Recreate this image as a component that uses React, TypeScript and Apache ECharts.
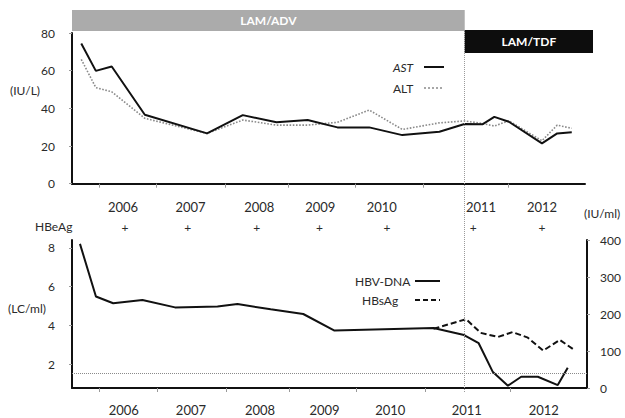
import React, { useEffect, useRef } from 'react';
import * as echarts from 'echarts';

// time axis in decimal years
const xMin = 2005.75;
const xMax = 2013.5;
const switchDate = 2011.66; // LAM/ADV -> LAM/TDF

// liver enzymes (IU/L)
const enzymeDates = [2005.89, 2006.11, 2006.35, 2006.85, 2007.79, 2008.33, 2008.84, 2009.31, 2009.76, 2010.24, 2010.74, 2011.30, 2011.68, 2011.95, 2012.13, 2012.35, 2012.85, 2013.08, 2013.30];
const astValues = [74.4, 59.9, 62.2, 36.6, 26.7, 36.4, 32.6, 33.8, 29.9, 29.9, 25.8, 27.6, 31.7, 31.5, 35.5, 32.9, 21.4, 26.7, 27.3];
const altValues = [66, 51, 48.8, 34.7, 26.7, 33.8, 31.1, 31.1, 32.6, 39.1, 28.8, 32.3, 33.3, 32, 30.6, 33.4, 22.8, 31.1, 29.4];

// HBV-DNA (LC/ml)
const dnaDates = [2005.87, 2006.11, 2006.37, 2006.81, 2007.30, 2007.94, 2008.24, 2008.74, 2009.23, 2009.70, 2011.19, 2011.65, 2011.87, 2012.08, 2012.31, 2012.51, 2012.76, 2013.06, 2013.21];
const dnaValues = [8.2, 5.5, 5.15, 5.32, 4.94, 4.98, 5.11, 4.84, 4.6, 3.75, 3.88, 3.52, 3.1, 1.64, 0.92, 1.38, 1.38, 0.95, 1.84];
const detectionLimit = 1.55;

// HBsAg (IU/ml)
const hbsDates = [2011.19, 2011.68, 2011.90, 2012.16, 2012.38, 2012.61, 2012.84, 2013.09, 2013.30];
const hbsValues = [160, 186, 149, 138, 151, 136, 101, 130, 104];

// axis ticks and labels
const xTicks = [2006.16, 2007.03, 2008.07, 2009.02, 2010.03, 2011.06, 2012.34];
const topYearPos = [2006.52, 2007.54, 2008.58, 2009.5, 2010.43, 2011.93, 2012.85];
const bottomYearPos = [2006.53, 2007.54, 2008.58, 2009.55, 2010.54, 2011.69, 2012.85];
const hbeagPos = [2006.55, 2007.5, 2008.54, 2009.49, 2010.51, 2011.81, 2012.85];
const hbeagStatus = ['+', '+', '+', '+', '+', '+', '+'];
const dnaTicks = [2, 4, 6, 8];

const zip = (xs: number[], ys: number[]) => xs.map((x, i) => [x, ys[i]]);

export default function App() {
  const ref = useRef<HTMLDivElement>(null);
  useEffect(() => {
    const chart = echarts.init(ref.current!, null, { renderer: 'svg' });
    const font = 'Lato, "Liberation Sans", sans-serif';
    const txt = '#2a2a2a';
    const label = { color: txt, fontSize: 12, fontFamily: font };
    const tick = { show: true, length: 3, lineStyle: { color: '#999', width: 1 } };
    const axisLine = { show: true, lineStyle: { color: '#111', width: 2 } };
    const yearFmt = (v: number) => String(Math.floor(v));

    chart.setOption({
      animation: false,
      backgroundColor: '#fff',
      grid: [
        { left: 72, right: 40, top: 33, height: 150.7 },
        { left: 72, right: 38, top: 240, bottom: 30 },
        { left: 72, right: 38, top: 30, bottom: 26 },
      ],
      xAxis: [
        {
          type: 'value', gridIndex: 0, min: xMin, max: xMax,
          axisLine, splitLine: { show: false },
          axisTick: { ...tick, length: 4, customValues: xTicks },
          axisLabel: { ...label, fontSize: 13, margin: 17, customValues: topYearPos, formatter: yearFmt },
        },
        {
          type: 'value', gridIndex: 1, min: xMin, max: xMax,
          axisLine, splitLine: { show: false },
          axisTick: { ...tick, length: 4, customValues: xTicks },
          axisLabel: { ...label, fontSize: 13, margin: 15, customValues: bottomYearPos, formatter: yearFmt },
        },
        { type: 'value', gridIndex: 2, min: xMin, max: xMax, show: false },
        {
          type: 'value', gridIndex: 0, min: xMin, max: xMax, position: 'bottom',
          axisLine: { show: false }, axisTick: { show: false }, splitLine: { show: false },
          axisLabel: { ...label, fontSize: 12, margin: 38, customValues: hbeagPos, formatter: (_v: number, i: number) => hbeagStatus[i] ?? '+' },
        },
      ],
      yAxis: [
        {
          type: 'value', gridIndex: 0, min: 0, max: 80, interval: 20,
          axisLine, axisTick: tick, splitLine: { show: false },
          axisLabel: { ...label, margin: 17 },
        },
        {
          type: 'value', gridIndex: 1, min: 0.8, max: 8.4,
          axisLine, splitLine: { show: false },
          axisTick: { ...tick, customValues: dnaTicks },
          axisLabel: { ...label, margin: 17, customValues: dnaTicks },
        },
        {
          type: 'value', gridIndex: 1, min: 0, max: 400, interval: 100, position: 'right',
          axisLine, axisTick: tick, splitLine: { show: false },
          axisLabel: { ...label, margin: 13 },
        },
        { type: 'value', gridIndex: 2, min: 0, max: 1, show: false },
      ],
      series: [
        {
          name: 'AST', type: 'line', xAxisIndex: 0, yAxisIndex: 0, symbol: 'none',
          data: zip(enzymeDates, astValues), lineStyle: { color: '#111', width: 2 }, z: 3,
        },
        {
          name: 'ALT', type: 'line', xAxisIndex: 0, yAxisIndex: 0, symbol: 'none',
          data: zip(enzymeDates, altValues), lineStyle: { color: '#8a8a8a', width: 1.6, type: 'dotted' }, z: 2,
        },
        {
          name: 'HBV-DNA', type: 'line', xAxisIndex: 1, yAxisIndex: 1, symbol: 'none',
          data: zip(dnaDates, dnaValues), lineStyle: { color: '#111', width: 2 },
          markLine: {
            silent: true, symbol: ['none', 'none'], label: { show: false },
            lineStyle: { color: '#8a8a8a', width: 1, type: 'dotted' },
            data: [{ yAxis: detectionLimit }],
          },
        },
        {
          name: 'HBsAg', type: 'line', xAxisIndex: 1, yAxisIndex: 2, symbol: 'none',
          data: zip(hbsDates, hbsValues), lineStyle: { color: '#111', width: 2, type: [6, 3] },
        },
        {
          name: 'switch', type: 'line', xAxisIndex: 2, yAxisIndex: 3, symbol: 'none', data: [],
          markLine: {
            silent: true, symbol: ['none', 'none'], label: { show: false },
            lineStyle: { color: '#9a9a9a', width: 1, type: 'dotted' },
            data: [{ xAxis: switchDate }],
          },
        },
      ],
    });

    const x0 = chart.convertToPixel({ xAxisIndex: 2 }, xMin) as number;
    const sx = chart.convertToPixel({ xAxisIndex: 2 }, switchDate) as number;
    const bannerEnd = 593;
    const t = (text: string, x: number, y: number, extra: any = {}) => ({
      type: 'text', x, y, z: 100,
      style: { text, fill: txt, fontSize: 12, fontFamily: font, align: 'left', verticalAlign: 'middle', ...extra },
    });
    const ln = (x1: number, y: number, x2: number, ls: any) => ({
      type: 'line', z: 100, shape: { x1, y1: y, x2, y2: y }, style: { stroke: '#111', lineWidth: 2, ...ls },
    });

    chart.setOption({
      graphic: [
        { type: 'rect', z: 90, shape: { x: x0, y: 10, width: sx - x0, height: 21 }, style: { fill: '#ababab' } },
        t('LAM/ADV', (x0 + sx) / 2, 20.5, { fill: '#fff', fontWeight: 'bold', align: 'center' }),
        { type: 'rect', z: 90, shape: { x: sx, y: 30, width: bannerEnd - sx, height: 23 }, style: { fill: '#0d0d0d' } },
        t('LAM/TDF', (sx + bannerEnd) / 2, 41.5, { fill: '#fff', fontWeight: 'bold', align: 'center' }),
        t('AST', 393, 67, { fontStyle: 'italic' }),
        ln(424, 67, 444, {}),
        t('ALT', 393, 88),
        ln(424, 88, 444, { stroke: '#8a8a8a', lineWidth: 1.6, lineDash: [2, 2] }),
        t('HBV-DNA', 355, 281),
        ln(415, 281, 440, {}),
        t('HBsAg', 362, 300),
        ln(415, 300, 440, { lineDash: [5, 3] }),
        t('(IU/L)', 10, 90),
        t('(LC/ml)', 8, 308),
        t('(IU/ml)', 584, 213),
        t('HBeAg', 35, 226),
      ],
    });

    return () => chart.dispose();
  }, []);
  return (
    <div
      ref={ref}
      style={{ position: 'fixed', left: 0, top: 0, width: 625, height: 418, background: '#fff' }}
    />
  );
}
